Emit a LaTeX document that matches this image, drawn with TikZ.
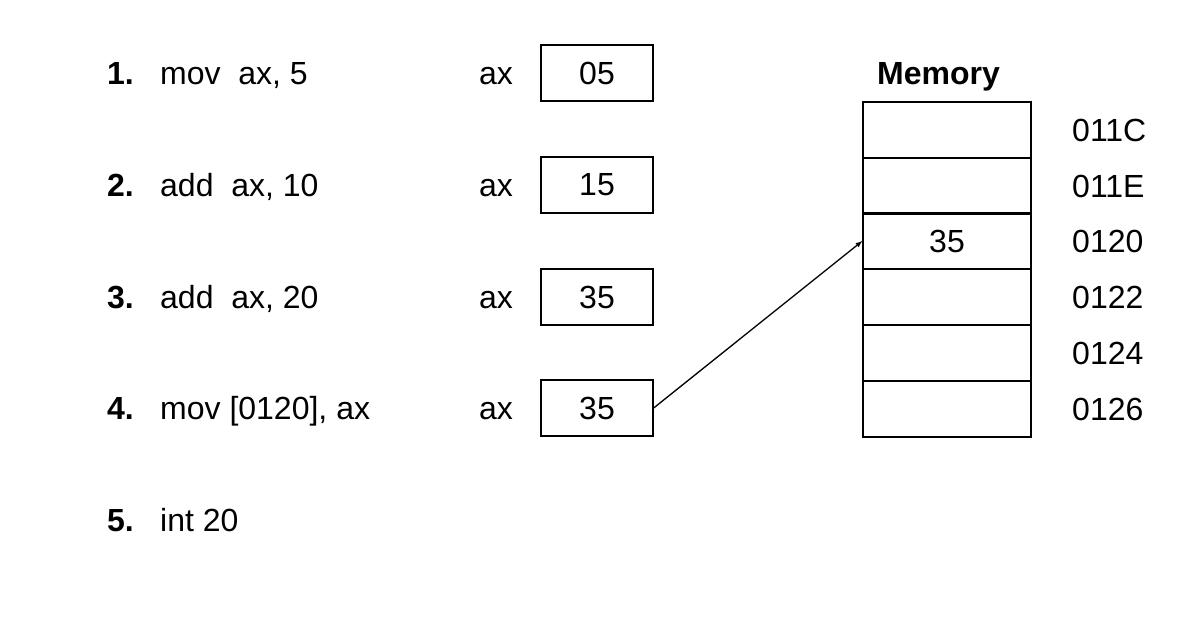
\documentclass[tikz,border=0pt]{standalone}
\usepackage{fontspec}
\setmainfont{Liberation Sans}
\begin{document}
\begin{tikzpicture}[x=1pt,y=-1pt,
  txt/.style={anchor=base west,inner sep=0,font=\fontsize{32}{36}\selectfont},
  reg/.style={draw,line width=1.3pt,minimum width=112pt,minimum height=56pt,inner sep=0,font=\fontsize{32}{36}\selectfont},
  cell/.style={draw,line width=1.3pt,minimum width=168pt,minimum height=56pt,inner sep=0,font=\fontsize{32}{36}\selectfont}]
\useasboundingbox (0,0) rectangle (1200,622);
\foreach \i/\y/\t in {1/73/{mov\ \ ax, 5},2/185/{add\ \ ax, 10},3/297/{add\ \ ax, 20},4/408/{mov [0120], ax},5/520/{int 20}}{
  \node[txt,font=\fontsize{32}{36}\selectfont\bfseries] (n\i) at (107,\y+11) {\i.};
  \node[txt] (t\i) at (160,\y+11) {\t};
}
\foreach \i/\y/\v in {1/73/05,2/185/15,3/297/35,4/408/35}{
  \node[txt] (ax\i) at (479,\y+11) {ax};
  \node[reg] (r\i) at (597,\y) {\v};
}
\node[txt,font=\fontsize{32}{36}\selectfont\bfseries] (mem) at (877,84) {Memory};
\foreach \i/\y/\a/\v in {1/130/011C/,2/186/011E/,3/241/0120/35,4/297/0122/,5/353/0124/,6/409/0126/}{
  \node[cell] (c\i) at (947,\y) {\v};
  \node[txt] (a\i) at (1072,\y+11) {\a};
}
\draw[line width=1.3pt,-latex] (r4.east) -- (c3.west);
\end{tikzpicture}
\end{document}
